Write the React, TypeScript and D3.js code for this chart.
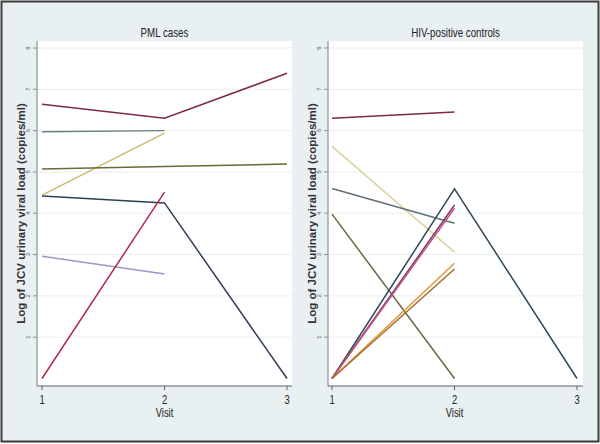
import React from "react";
import * as d3 from "d3";

const visits = [1, 2, 3];
const yTicks = [1, 2, 3, 4, 5, 6, 7, 8];
const panelTitles = ["PML cases", "HIV-positive controls"];
const yTitle = "Log of JCV urinary viral load (copies/ml)";
const xTitle = "Visit";

// PML cases (values at visits 1,2,3; null = missing)
const pmlA = [6.64, 6.3, 7.39];
const pmlB = [5.97, 6.0, null];
const pmlC = [4.44, 5.94, null];
const pmlD = [5.07, 5.13, 5.19];
const pmlE = [4.42, 4.25, 0];
const pmlF = [2.96, 2.53, null];
const pmlG = [0, 4.51, null];
const pmlSeries = [pmlA, pmlB, pmlC, pmlD, pmlE, pmlF, pmlG];
const pmlColors = ["#7d2a3c", "#6b7f80", "#c8bd6a", "#6e6a36", "#2f3e56", "#9d95c8", "#b22a48"];

// HIV-positive controls
const hivA = [6.3, 6.45, null];
const hivB = [5.62, 3.06, null];
const hivC = [4.6, 3.76, null];
const hivD = [3.98, 0, null];
const hivE = [0, 4.59, 0];
const hivF = [0, 4.2, null];
const hivG = [0, 4.12, null];
const hivH = [0, 2.79, null];
const hivI = [0, 2.65, null];
const hivSeries = [hivA, hivB, hivC, hivD, hivE, hivF, hivG, hivH, hivI];
const hivColors = ["#7d2a3c", "#dcd29c", "#5f6e78", "#6b6940", "#2e4858", "#7a3a7a", "#c4547a", "#dc9a34", "#a86a2c"];

const W = 600;
const H = 444;
const plotTop = 41;
const plotBottom = 386;
const panels = [
  { x0: 37, x1: 292, v1: 42, v3: 287, series: pmlSeries, colors: pmlColors, title: panelTitles[0] },
  { x0: 328, x1: 583, v1: 332, v3: 577, series: hivSeries, colors: hivColors, title: panelTitles[1] },
];

const font = "'Liberation Sans', Arial, sans-serif";

function Narrow({ x, y, size, children }: { x: number; y: number; size: number; children: React.ReactNode }) {
  return (
    <text
      transform={`translate(${x},${y}) scale(0.78,1)`}
      textAnchor="middle"
      fontSize={size}
      fontFamily={font}
      fill="#222"
    >
      {children}
    </text>
  );
}

function Panel({ p }: { p: typeof panels[0] }) {
  const x = d3.scaleLinear().domain([1, 3]).range([p.v1, p.v3]);
  const y = d3.scaleLinear().domain([0, 8]).range([378.5, 48]);
  const line = d3
    .line<[number, number | null]>()
    .defined((d) => d[1] !== null)
    .x((d) => x(d[0]))
    .y((d) => y(d[1] as number));
  const cx = (p.x0 + p.x1) / 2;
  return (
    <g>
      <rect x={p.x0} y={plotTop} width={p.x1 - p.x0} height={plotBottom - plotTop} fill="#ffffff" />
      {yTicks.map((t) => (
        <line key={t} x1={p.x0} x2={p.x1} y1={y(t)} y2={y(t)} stroke="#eaeeef" strokeWidth={1} />
      ))}
      {p.series.map((s, i) => (
        <path
          key={i}
          d={line(visits.map((v, j) => [v, s[j]] as [number, number | null])) || ""}
          fill="none"
          stroke={p.colors[i]}
          strokeWidth={1.5}
        />
      ))}
      {/* y axis */}
      <line x1={p.x0} x2={p.x0} y1={plotTop} y2={plotBottom} stroke="#8a9399" strokeWidth={1.2} />
      {yTicks.map((t) => (
        <g key={t}>
          <line x1={p.x0 - 4} x2={p.x0} y1={y(t)} y2={y(t)} stroke="#8a9399" strokeWidth={1} />
          <text
            transform={`translate(${p.x0 - 7},${y(t)}) rotate(-90)`}
            textAnchor="middle"
            fontSize={6}
            fontFamily={font}
            fill="#555"
          >
            {t}
          </text>
        </g>
      ))}
      {/* x axis */}
      <line x1={p.x0} x2={p.x1} y1={plotBottom} y2={plotBottom} stroke="#5c6468" strokeWidth={1.2} />
      {visits.map((v) => (
        <g key={v}>
          <line x1={x(v)} x2={x(v)} y1={plotBottom} y2={plotBottom + 4} stroke="#5c6468" strokeWidth={1} />
          <Narrow x={x(v)} y={plotBottom + 18} size={12}>
            {v}
          </Narrow>
        </g>
      ))}
      <Narrow x={x(2)} y={plotBottom + 31} size={12}>
        {xTitle}
      </Narrow>
      <Narrow x={cx} y={37} size={12.5}>
        {p.title}
      </Narrow>
      <text
        transform={`translate(${p.x0 - 12},${(plotTop + plotBottom) / 2}) rotate(-90)`}
        textAnchor="middle"
        fontSize={11.5}
        fontWeight="bold"
        fontFamily={font}
        fill="#333"
      >
        {yTitle}
      </text>
    </g>
  );
}

export default function App() {
  return (
    <svg width={W} height={H} style={{ position: "absolute", left: 0, top: 0, display: "block" }}>
      <rect x={0} y={0} width={W} height={H} fill="#ffffff" />
      <rect x={1.5} y={1.5} width={W - 3} height={H - 4} fill="#e9f0f2" stroke="#3a3a3a" strokeWidth={2} />
      {panels.map((p, i) => (
        <Panel key={i} p={p} />
      ))}
    </svg>
  );
}
